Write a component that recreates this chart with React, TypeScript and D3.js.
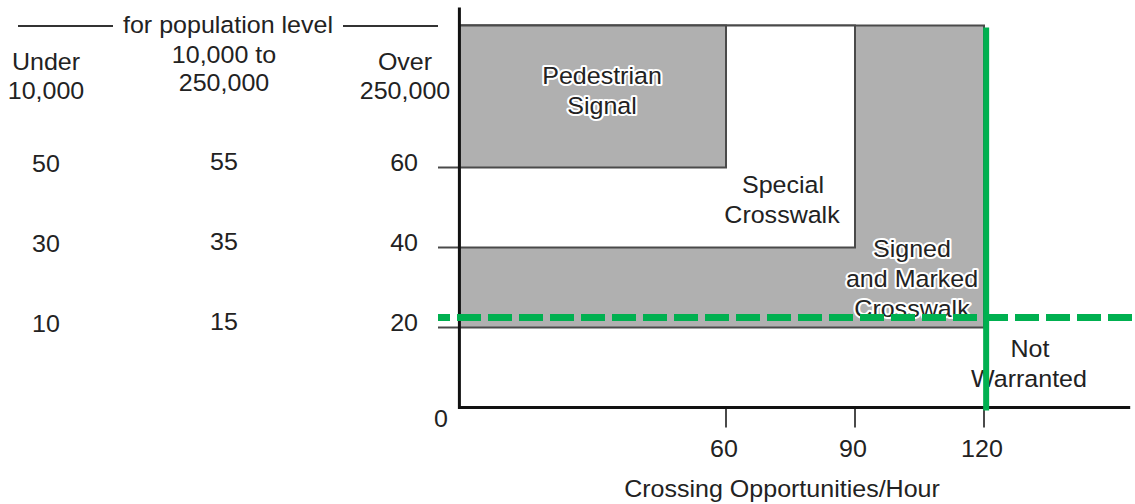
import React from "react";
import * as d3 from "d3";

// ---------- data ----------
const populationGroups = [
  ["Under", "10,000"],
  ["10,000 to", "250,000"],
  ["Over", "250,000"],
];
const thresholdsUnder10k = [50, 30, 10];
const thresholds10kTo250k = [55, 35, 15];
const thresholdsOver250k = [60, 40, 20]; // also the y-axis ticks
const xTicks = [60, 90, 120];
const topOfZones = 95.5;

// zone rectangles (x upper bound, y lower bound), drawn in this order
const zoneNames = ["Signed and Marked Crosswalk", "Special Crosswalk", "Pedestrian Signal"];
const zoneMaxX = [120, 90, 60];
const zoneMinY = [20, 40, 60];
const zoneFilled = [true, false, true];

// green reference lines
const refVolume = 22.5;      // horizontal dashed line (y value)
const refCrossing = 120.5;   // vertical solid line (x value)

// ---------- layout ----------
const W = 1135;
const H = 504;
const xMinAxis = -2;
const xMaxAxis = 154;
const x = d3.scaleLinear().domain([xMinAxis, xMaxAxis]).range([459.4, 1130.2]);
const y = d3.scaleLinear().domain([0, 100]).range([407.5, 7.5]);

const FONT = "'Liberation Sans', Arial, Helvetica, sans-serif";
const FS = 23.5;
const SX = 1.065;
const TXT = "#222";
const GRAY = "#b0b0b0";
const EDGE = "#4a4a4a";
const GREEN = "#00b050";

type LabelProps = {
  x: number;
  y: number;
  text: string;
  anchor?: "start" | "middle" | "end";
  halo?: boolean;
};
const Label = ({ x: lx, y: ly, text, anchor = "middle", halo = false }: LabelProps) => (
  <text
    transform={`translate(${lx},${ly}) scale(${SX},1)`}
    textAnchor={anchor}
    fontFamily={FONT}
    fontSize={FS}
    fill={TXT}
    stroke={halo ? "#fff" : "none"}
    strokeWidth={halo ? 4 : 0}
    strokeLinejoin="round"
    paintOrder="stroke"
  >
    {text}
  </text>
);

export default function App() {
  const colX = [46, 224, 405];
  const headerBase = [[70, 99], [63, 91], [70, 99]];
  const rowCols = [thresholdsUnder10k, thresholds10kTo250k];
  const rowOffsets = [4, 2];

  return (
    <svg
      width={W}
      height={H}
      viewBox={`0 0 ${W} ${H}`}
      style={{ position: "absolute", left: 0, top: 0, background: "#fff" }}
    >
      <rect x={0} y={0} width={W} height={H} fill="#fff" />

      {/* zones */}
      {zoneNames.map((n, i) => (
        <rect
          key={n}
          x={x(xMinAxis)}
          y={y(topOfZones)}
          width={x(zoneMaxX[i]) - x(xMinAxis)}
          height={y(zoneMinY[i]) - y(topOfZones)}
          fill={zoneFilled[i] ? GRAY : "#fff"}
          stroke={EDGE}
          strokeWidth={2}
        />
      ))}

      {/* y ticks */}
      {thresholdsOver250k.map((v) => (
        <line key={v} x1={438} x2={x(xMinAxis)} y1={y(v)} y2={y(v)} stroke={EDGE} strokeWidth={2} />
      ))}
      {/* x ticks */}
      {xTicks.map((v) => (
        <line key={v} x1={x(v)} x2={x(v)} y1={y(0)} y2={y(0) + 20} stroke={EDGE} strokeWidth={2} />
      ))}

      {/* axes */}
      <line x1={x(xMinAxis)} x2={x(xMinAxis)} y1={y(100)} y2={y(0) + 1.5} stroke="#111" strokeWidth={3} />
      <line x1={x(xMinAxis)} x2={x(xMaxAxis)} y1={y(0)} y2={y(0)} stroke="#111" strokeWidth={3} />

      {/* header */}
      <line x1={18} x2={113} y1={26} y2={26} stroke="#333" strokeWidth={1.8} />
      <line x1={343} x2={438} y1={26} y2={26} stroke="#333" strokeWidth={1.8} />
      <Label x={228} y={33} text="for population level" />
      {populationGroups.map((g, i) =>
        g.map((t, j) => <Label key={`${i}-${j}`} x={colX[i]} y={headerBase[i][j]} text={t} />)
      )}

      {/* threshold columns */}
      {rowCols.map((col, ci) =>
        col.map((v, ri) => (
          <Label
            key={`${ci}-${ri}`}
            x={colX[ci]}
            y={y(thresholdsOver250k[ri]) + rowOffsets[ci]}
            text={String(v)}
          />
        ))
      )}
      {thresholdsOver250k.map((v) => (
        <Label key={`o${v}`} x={418} y={y(v) + 3} text={String(v)} anchor="end" />
      ))}
      <Label x={441} y={427} text="0" />

      {/* x tick labels + title */}
      {xTicks.map((v) => (
        <Label key={`xt${v}`} x={x(v) - 2} y={457} text={String(v)} />
      ))}
      <Label x={782} y={497} text="Crossing Opportunities/Hour" />

      {/* zone labels */}
      <Label x={602} y={84} text="Pedestrian" halo />
      <Label x={602} y={114} text="Signal" halo />
      <Label x={783} y={193} text="Special" />
      <Label x={782} y={223} text="Crosswalk" />
      <Label x={912} y={257} text="Signed" halo />
      <Label x={912} y={287} text="and Marked" halo />
      <Label x={912} y={317} text="Crosswalk" halo />
      <Label x={1030} y={357} text="Not" />
      <Label x={1029} y={387} text="Warranted" />

      {/* green reference lines */}
      <line
        x1={438}
        x2={W}
        y1={y(refVolume)}
        y2={y(refVolume)}
        stroke={GREEN}
        strokeWidth={7}
        strokeDasharray="24 7"
        strokeDashoffset={12}
      />
      <line
        x1={x(refCrossing)}
        x2={x(refCrossing)}
        y1={y(95)}
        y2={y(0) + 3}
        stroke={GREEN}
        strokeWidth={6}
      />
    </svg>
  );
}
